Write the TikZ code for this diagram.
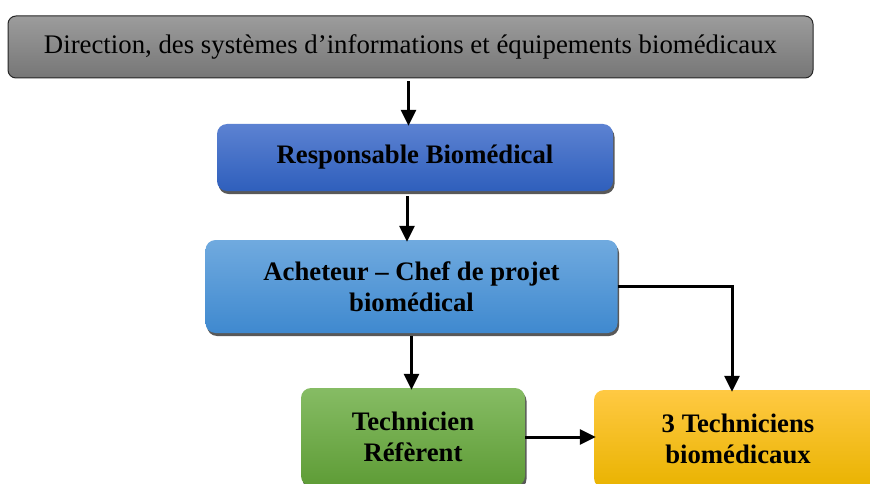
\documentclass[tikz,border=0pt]{standalone}
\usepackage{fontspec}
\setmainfont{Liberation Serif}
\usetikzlibrary{shadows,arrows.meta,calc}
\definecolor{grayT}{HTML}{9C9C9C}
\definecolor{grayB}{HTML}{767676}
\definecolor{respT}{HTML}{5C82D2}
\definecolor{respB}{HTML}{2F5FBC}
\definecolor{achT}{HTML}{70AADF}
\definecolor{achB}{HTML}{3F89CF}
\definecolor{techT}{HTML}{86BC64}
\definecolor{techB}{HTML}{5E9C36}
\definecolor{troisT}{HTML}{FFC943}
\definecolor{troisB}{HTML}{E9B300}
\tikzset{
  orgbox/.style={rounded corners=10pt, inner sep=0pt, align=center,
    font=\fontsize{26.7}{31}\selectfont\bfseries,
    drop shadow={shadow xshift=1.5pt, shadow yshift=-3pt, fill=black!65, opacity=1}},
  arr/.style={line width=3pt, -{Triangle[width=15pt,length=16pt]}, shorten >=-2pt}
}
\begin{document}
\begin{tikzpicture}[x=1pt,y=-1pt]
\useasboundingbox (0,0) rectangle (870,484);
\node[rounded corners=8pt, inner sep=0pt, draw=black!85, line width=1pt,
  top color=grayT, bottom color=grayB, minimum width=805pt, minimum height=62pt,
  font=\fontsize{26.8}{31}\selectfont] (top) at (410.5,47)
  {Direction, des systèmes d’informations et équipements biomédicaux};
\node[orgbox, top color=respT, bottom color=respB, minimum width=396pt, minimum height=67pt]
  (resp) at (415,157.5) {Responsable Biomédical};
\node[orgbox, top color=achT, bottom color=achB, minimum width=412pt, minimum height=93pt]
  (ach) at (411.5,286.5) {Acheteur – Chef de projet\\biomédical};
\node[orgbox, top color=techT, bottom color=techB, minimum width=224pt, minimum height=98pt]
  (tech) at (413,437) {Technicien\\Réfèrent};
\node[orgbox, top color=troisT, bottom color=troisB, minimum width=288pt, minimum height=98pt]
  (trois) at (738,439) {3 Techniciens\\biomédicaux};
\draw[arr] ([xshift=-2pt,yshift=-3pt]top.south) -- ([xshift=-2pt]top.south |- resp.north);
\draw[arr] ([xshift=-8pt,yshift=-5pt]resp.south) -- ([xshift=-8pt]resp.south |- ach.north);
\draw[arr] ([yshift=-3pt]ach.south) -- (ach.south |- tech.north);
\draw[arr] (ach.east) -| ([xshift=-6pt]trois.north);
\draw[arr] (tech.east) -- (tech.east -| trois.west);
\end{tikzpicture}
\end{document}
